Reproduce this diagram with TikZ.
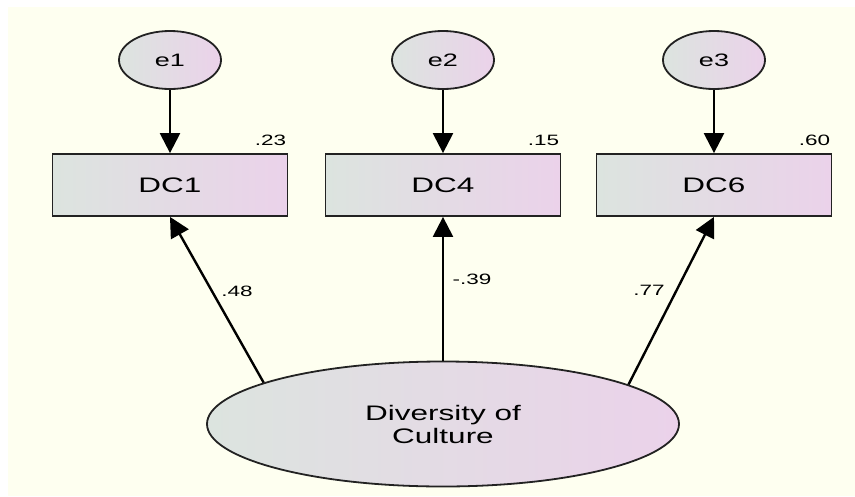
\documentclass[tikz,border=0pt]{standalone}
\usepackage{fontspec}
% the diagram's lettering is set wide
\setmainfont{Liberation Sans}[FakeStretch=1.5]
\usetikzlibrary{arrows.meta,shapes.geometric}
\definecolor{paper}{HTML}{FEFFF0}
\definecolor{shadeL}{HTML}{DCE4DF}
\definecolor{shadeR}{HTML}{EBD2EA}
\definecolor{edge}{HTML}{222222}

\begin{document}
\begin{tikzpicture}[x=1pt,y=-1pt,
  latent/.style={ellipse, draw=edge, line width=1.8pt, left color=shadeL, right color=shadeR, inner sep=0pt},
  errnode/.style={latent, minimum width=102pt, minimum height=58pt, font=\fontsize{18}{20}\selectfont},
  obs/.style={rectangle, draw=edge, line width=1.8pt, left color=shadeL, right color=shadeR,
              minimum width=235pt, minimum height=62pt, font=\fontsize{21}{24}\selectfont},
  regpath/.style={line width=2.4pt, -{Triangle[length=20pt,width=20pt]}},
  coef/.style={font=\fontsize{15}{17}\selectfont, inner sep=0pt},
]
% canvas
\useasboundingbox (0,0) rectangle (855,496);
\fill[white] (0,0) rectangle (855,496);
\fill[paper] (8,7) rectangle (855,496);

% error terms
\node[errnode] (e1) at (170,60) {e1};
\node[errnode] (e2) at (443,60) {e2};
\node[errnode] (e3) at (714,60) {e3};

% observed indicators
\node[obs] (dc1) at (170,185) {DC1};
\node[obs] (dc4) at (443,185) {DC4};
\node[obs] (dc6) at (714,185) {DC6};

% latent factor
\node[latent, minimum width=472pt, minimum height=125pt, align=center,
      font=\fontsize{21}{23}\selectfont] (doc) at (443,424) {Diversity of\\Culture};

% error paths
\draw[regpath] (e1) -- (dc1);
\draw[regpath] (e2) -- (dc4);
\draw[regpath] (e3) -- (dc6);

% factor loadings
\draw[regpath] (doc.167.8) -- (dc1.south);
\draw[regpath] (doc.north) -- (dc4.south);
\draw[regpath] (doc.12.2) -- (dc6.south);

% squared multiple correlations
\node[coef, anchor=south east] (r1) at ([xshift=-2pt,yshift=7pt]dc1.north east) {.23};
\node[coef, anchor=south east] (r4) at ([xshift=-2pt,yshift=7pt]dc4.north east) {.15};
\node[coef, anchor=south east] (r6) at ([xshift=-2pt,yshift=7pt]dc6.north east) {.60};

% loading estimates
\node[coef] (l1) at (237,291) {.48};
\node[coef] (l4) at (472,279) {-.39};
\node[coef] (l6) at (649,290) {.77};
\end{tikzpicture}
\end{document}
